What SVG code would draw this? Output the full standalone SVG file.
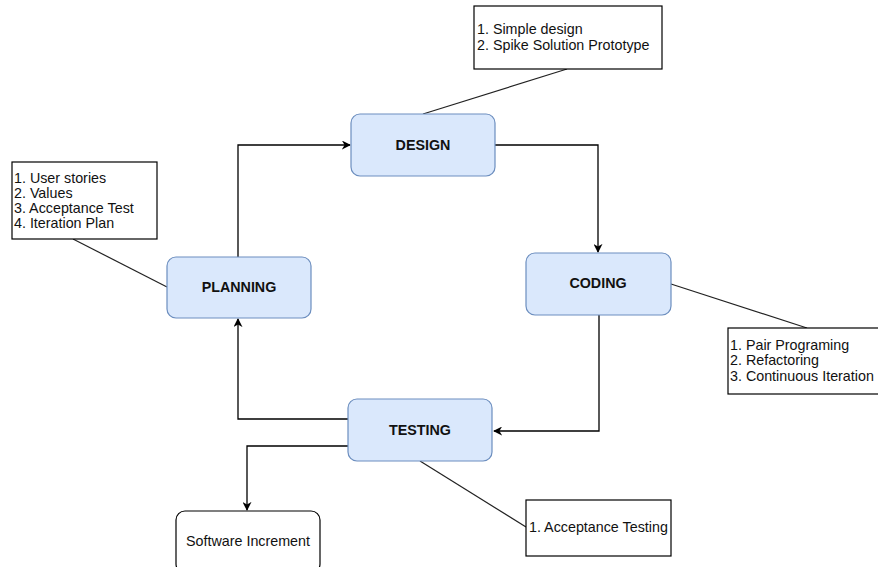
<svg xmlns="http://www.w3.org/2000/svg" width="878" height="567" viewBox="0 0 878 567">
  <style>
    .phase { fill: #dae8fc; stroke: #6c8ebf; stroke-width: 1.2; }
    .phase-label { font-family: "Liberation Sans", Arial, sans-serif; font-size: 14.3px; font-weight: bold; fill: #111; text-anchor: middle; }
    .note { fill: #ffffff; stroke: #000; stroke-width: 1.2; }
    .note-text { font-family: "Liberation Sans", Arial, sans-serif; font-size: 14.3px; fill: #111; }
    .out { fill: #ffffff; stroke: #000; stroke-width: 1.2; }
    .flow { fill: none; stroke: #000; stroke-width: 1.3; }
    .lead { fill: none; stroke: #222; stroke-width: 1.2; }
  </style>
  <defs>
    <marker id="arrow" viewBox="0 0 10 10" refX="9" refY="5" markerWidth="9" markerHeight="9" markerUnits="userSpaceOnUse" orient="auto">
      <path d="M0,0 L10,5 L0,10 L3,5 Z" fill="#000"/>
    </marker>
  </defs>
  <rect width="878" height="567" fill="#ffffff"/>

  <!-- connectors -->
  <g id="connectors">
    <!-- cycle -->
    <path class="flow" d="M238,257 V145 H350" marker-end="url(#arrow)"/>
    <path class="flow" d="M495,145 H598 V252" marker-end="url(#arrow)"/>
    <path class="flow" d="M599,315 V431 H494" marker-end="url(#arrow)"/>
    <path class="flow" d="M348,419 H238 V319" marker-end="url(#arrow)"/>
    <path class="flow" d="M348,446 H247 V510" marker-end="url(#arrow)"/>
    <!-- note leaders -->
    <path class="lead" d="M423,114 L567,69"/>
    <path class="lead" d="M167,287 L73,239"/>
    <path class="lead" d="M671,284 L807,328"/>
    <path class="lead" d="M420,461 L526,527"/>
  </g>

  <!-- phases -->
  <g id="design">
    <rect class="phase" x="351" y="114" width="144" height="62" rx="9"/>
    <text class="phase-label" x="423" y="150">DESIGN</text>
  </g>
  <g id="coding">
    <rect class="phase" x="526" y="253" width="145" height="62" rx="9"/>
    <text class="phase-label" x="598" y="288">CODING</text>
  </g>
  <g id="testing">
    <rect class="phase" x="348" y="399" width="144" height="62" rx="9"/>
    <text class="phase-label" x="420" y="435">TESTING</text>
  </g>
  <g id="planning">
    <rect class="phase" x="167" y="257" width="144" height="61" rx="9"/>
    <text class="phase-label" x="239" y="292">PLANNING</text>
  </g>

  <!-- output -->
  <g id="software-increment">
    <rect class="out" x="176" y="511" width="144" height="62" rx="9"/>
    <text class="note-text" x="248" y="546" text-anchor="middle">Software Increment</text>
  </g>

  <!-- practice notes -->
  <g id="note-design">
    <rect class="note" x="474" y="6" width="188" height="63"/>
    <text class="note-text" x="477" y="34">1. Simple design</text>
    <text class="note-text" x="477" y="50">2. Spike Solution Prototype</text>
  </g>
  <g id="note-planning">
    <rect class="note" x="12" y="162" width="145" height="77"/>
    <text class="note-text" x="14" y="183">1. User stories</text>
    <text class="note-text" x="14" y="198">2. Values</text>
    <text class="note-text" x="14" y="213">3. Acceptance Test</text>
    <text class="note-text" x="14" y="228">4. Iteration Plan</text>
  </g>
  <g id="note-coding">
    <rect class="note" x="728" y="328" width="152" height="66"/>
    <text class="note-text" x="730" y="350">1. Pair Programing</text>
    <text class="note-text" x="730" y="365">2. Refactoring</text>
    <text class="note-text" x="730" y="381">3. Continuous Iteration</text>
  </g>
  <g id="note-testing">
    <rect class="note" x="526" y="500" width="145" height="56"/>
    <text class="note-text" x="529" y="532">1. Acceptance Testing</text>
  </g>
</svg>
